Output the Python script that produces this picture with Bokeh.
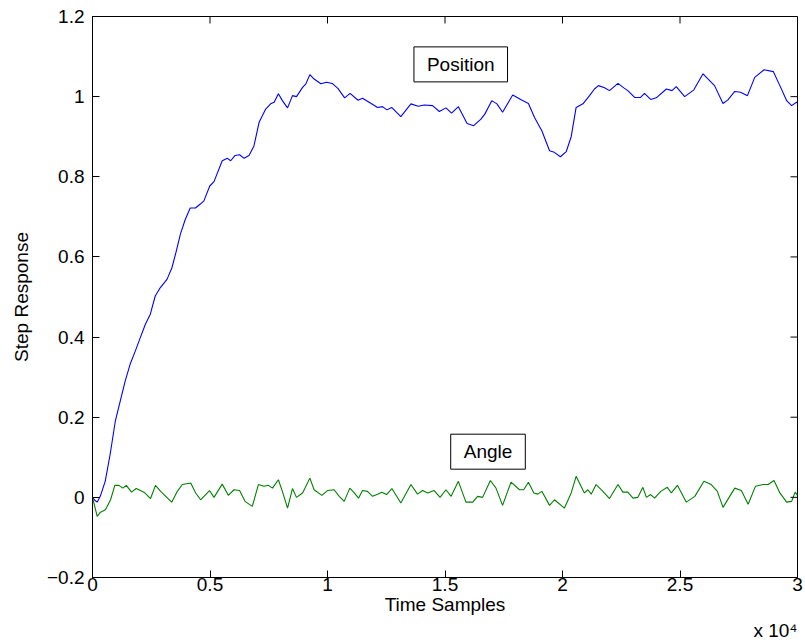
from bokeh.plotting import figure
from bokeh.models import Range1d, Label, FixedTicker, Title
from bokeh.embed import file_html
from bokeh.resources import INLINE

# ---- data (time samples, step response) ----
position_t = [0, 110, 200, 330, 540, 750, 970, 1180, 1390, 1600, 1820, 2030, 2250, 2460,
              2670, 2880, 3170, 3380, 3550, 3740, 3950, 4160, 4380, 4590, 4740, 4990,
              5170, 5520, 5740, 5880, 6060, 6260, 6450, 6660, 6870, 7090, 7370, 7580,
              7730, 7910, 8080, 8300, 8510, 8680, 8940, 9080, 9250, 9430, 9720, 9960,
              10200, 10450, 10730, 10960, 11300, 11490, 11770, 12130, 12340, 12530,
              12730, 13120, 13550, 13860, 14120, 14470, 14760, 15040, 15280, 15570,
              15940, 16220, 16530, 16700, 16990, 17210, 17450, 17880, 18240, 18550,
              18810, 19120, 19450, 19650, 19910, 20160, 20370, 20580, 20870, 21150,
              21360, 21530, 21790, 22000, 22360, 22610, 22780, 23070, 23320, 23490,
              23750, 23990, 24420, 24660, 24840, 25200, 25590, 25980, 26470, 26830,
              27040, 27330, 27580, 27870, 28180, 28580, 28970, 29250, 29540, 29750,
              29960, 30000]
position_y = [0.0, -0.008, -0.012, 0.0025, 0.04, 0.107, 0.19, 0.24, 0.29, 0.332, 0.365,
              0.398, 0.432, 0.457, 0.5025, 0.523, 0.544, 0.573, 0.611, 0.657, 0.694,
              0.722, 0.722, 0.732, 0.74, 0.777, 0.788, 0.84, 0.846, 0.84, 0.853, 0.855,
              0.846, 0.853, 0.877, 0.936, 0.969, 0.982, 0.986, 1.007, 0.99, 0.972,
              1.0025, 1.0, 1.023, 1.032, 1.055, 1.044, 1.032, 1.036, 1.033, 1.02, 0.997,
              1.008, 0.991, 0.996, 0.986, 0.973, 0.975, 0.967, 0.973, 0.95, 0.982,
              0.976, 0.979, 0.9775, 0.963, 0.972, 0.959, 0.975, 0.933, 0.9275, 0.944,
              0.957, 0.99, 0.982, 0.961, 1.004, 0.992, 0.983, 0.948, 0.915, 0.865,
              0.861, 0.85, 0.863, 0.9, 0.973, 0.982, 1.0025, 1.019, 1.0275, 1.022,
              1.015, 1.033, 1.022, 1.015, 0.998, 0.998, 1.008, 0.993, 0.997, 1.019,
              1.015, 1.025, 1.0, 1.017, 1.057, 1.0275, 0.983, 0.992, 1.013, 1.011,
              1.0025, 1.048, 1.067, 1.0625, 1.0275, 0.99, 0.9775, 0.986, 0.985]

angle_t = [0, 200, 340, 550, 770, 950, 1120, 1290, 1440, 1660, 1860, 2190, 2470, 2680,
           2900, 3370, 3610, 3820, 4180, 4390, 4600, 4980, 5170, 5520, 5780, 6020, 6260,
           6490, 6800, 7060, 7300, 7490, 7660, 7910, 8080, 8300, 8510, 8680, 8940, 9250,
           9430, 9760, 10000, 10280, 10500, 10710, 10950, 11140, 11320, 11490, 11700,
           11920, 12130, 12310, 12510, 12740, 13120, 13550, 13830, 14050, 14260, 14540,
           14790, 15040, 15260, 15570, 15890, 16180, 16390, 16600, 16930, 17170, 17450,
           17810, 18170, 18350, 18550, 18780, 18950, 19120, 19450, 19660, 20080, 20370,
           20580, 20930, 21080, 21220, 21430, 21720, 22000, 22360, 22570, 22780, 23000,
           23210, 23420, 23570, 23750, 23920, 24180, 24460, 24630, 24890, 25270, 25630,
           26020, 26330, 26590, 26830, 27330, 27610, 27900, 28210, 28540, 28750, 29000,
           29250, 29540, 29750, 29900, 30000]
angle_y = [0.0, -0.0475, -0.037, -0.031, -0.006, 0.03, 0.03, 0.023, 0.03, 0.013, 0.022,
           0.013, -0.003, 0.03, 0.015, -0.012, 0.015, 0.032, 0.036, 0.011, -0.006, 0.017,
           0.0, 0.033, 0.005, 0.019, 0.017, -0.01, -0.0225, 0.032, 0.0275, 0.03, 0.023,
           0.044, 0.015, -0.027, 0.022, 0.0, 0.011, 0.048, 0.019, 0.005, 0.017, 0.019,
           0.0025, -0.01, 0.023, 0.011, -0.002, 0.017, 0.015, 0.0025, 0.008, 0.013,
           0.007, 0.022, -0.014, 0.032, 0.008, 0.017, 0.011, 0.017, 0.0, 0.019, 0.0025,
           0.04, -0.012, -0.012, 0.0025, 0.0, 0.042, 0.023, -0.02, 0.038, 0.019, 0.019,
           0.0375, 0.011, 0.008, 0.015, -0.02, -0.006, -0.027, 0.011, 0.0525, 0.011,
           0.019, 0.008, 0.032, 0.015, -0.003, 0.032, 0.013, 0.013, -0.002, 0.0, 0.025,
           0.0, 0.007, -0.002, 0.015, 0.025, 0.011, 0.03, -0.012, 0.0025, 0.04, 0.032,
           0.015, -0.025, 0.023, 0.017, -0.017, 0.0275, 0.032, 0.032, 0.042, 0.011,
           -0.012, -0.01, 0.013, 0.005]

x_ticks = [0, 5000, 10000, 15000, 20000, 25000, 30000]
x_tick_labels = ["0", "0.5", "1", "1.5", "2", "2.5", "3"]
y_ticks = [-0.2, 0.0, 0.2, 0.4, 0.6, 0.8, 1.0, 1.2]
y_tick_labels = ["\u22120.2", "0", "0.2", "0.4", "0.6", "0.8", "1", "1.2"]

FONT = "Liberation Sans"
FS = "19px"
X0, X1, Y0, Y1 = 0, 30000, -0.2, 1.2

p = figure(width=805, height=644, output_backend="svg", toolbar_location=None,
           x_range=Range1d(X0, X1), y_range=Range1d(Y0, Y1),
           min_border_left=92, min_border_right=8, min_border_top=16,
           min_border_bottom=67)
p.background_fill_color = "white"
p.border_fill_color = "white"
p.outline_line_color = "black"
p.outline_line_width = 1
p.xgrid.visible = False
p.ygrid.visible = False

p.line(position_t, position_y, line_color="#0000FF", line_width=1.1)
p.line(angle_t, angle_y, line_color="#008000", line_width=1.1)

# mirrored inward ticks on the top and right edges of the box (7 px long)
tick_dy = 7 * (Y1 - Y0) / 561
tick_dx = 7 * (X1 - X0) / 705
p.segment(x0=x_ticks, y0=[Y1] * len(x_ticks), x1=x_ticks,
          y1=[Y1 - tick_dy] * len(x_ticks), line_color="black", line_width=1)
p.segment(x0=[X1] * len(y_ticks), y0=y_ticks, x1=[X1 - tick_dx] * len(y_ticks),
          y1=y_ticks, line_color="black", line_width=1)

def style(ax):
    ax.axis_line_color = "black"
    ax.major_tick_line_color = "black"
    ax.major_tick_in = 7
    ax.major_tick_out = 0
    ax.minor_tick_line_color = None
    ax.major_label_text_font = FONT
    ax.major_label_text_font_size = FS
    ax.major_label_text_color = "black"
    ax.axis_label_text_font = FONT
    ax.axis_label_text_font_size = FS
    ax.axis_label_text_font_style = "normal"
    ax.axis_label_text_color = "black"

xa = p.xaxis[0]
xa.ticker = FixedTicker(ticks=x_ticks)
xa.major_label_overrides = dict(zip(x_ticks, x_tick_labels))
style(xa)
xa.major_label_standoff = 0
xa.axis_label = "Time Samples"
xa.axis_label_standoff = 0

ya = p.yaxis[0]
ya.ticker = FixedTicker(ticks=y_ticks)
ya.major_label_overrides = dict(zip(y_ticks, y_tick_labels))
style(ya)
ya.major_label_standoff = 8
ya.axis_label = "Step Response"
ya.axis_label_standoff = 12

for txt, xx, yy in [("Position", 15670, 1.0805), ("Angle", 16830, 0.114)]:
    p.add_layout(Label(x=xx, y=yy, text=txt, text_align="center",
                       text_baseline="middle", text_font=FONT, text_font_size=FS,
                       text_color="black", border_line_color="black",
                       border_line_width=1, background_fill_color="white",
                       padding=dict(x=13, y=7)))

p.add_layout(Title(text="x 10\u2074", align="right", text_font=FONT,
                   text_font_size=FS, text_font_style="normal", text_color="black",
                   standoff=0, offset=0), "below")

open("out.html", "w").write(file_html(p, INLINE))
